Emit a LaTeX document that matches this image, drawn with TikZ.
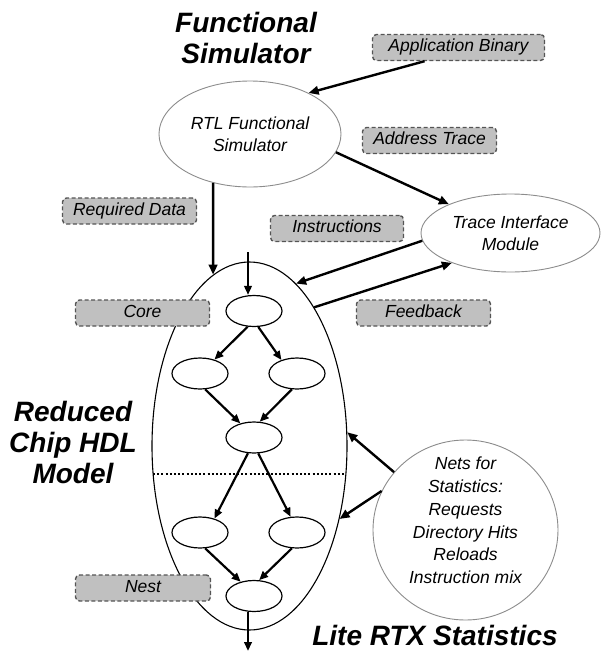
\documentclass[tikz,border=0pt]{standalone}
\usepackage{fontspec}
\setmainfont{Liberation Sans}
\usetikzlibrary{arrows.meta,shapes.geometric}

\newcommand\lblfont{\fontsize{17.5}{22}\selectfont\itshape}
\newcommand\hdrfont{\fontsize{28}{31}\selectfont\bfseries\itshape}

\tikzset{
  tag/.style={draw={rgb,255:red,85;green,85;blue,85}, fill={rgb,255:red,192;green,192;blue,192},
    dash pattern=on 4pt off 2.5pt, line width=1.4pt, rounded corners=4pt,
    minimum height=26pt, inner sep=0pt, font=\lblfont, text height=12.6pt, text depth=3.7pt},
  bubble/.style={ellipse, draw={rgb,255:red,140;green,140;blue,140}, line width=0.9pt,
    fill=white, inner sep=0pt, align=center, font=\lblfont},
  gate/.style={ellipse, draw, line width=1.2pt, minimum width=56pt, minimum height=31pt, inner sep=0pt},
  flow/.style={line width=2.4pt, -{Triangle[length=10pt,width=8.5pt]}},
  link/.style={line width=2.2pt, -{Triangle[length=9pt,width=7.5pt]}},
  title/.style={font=\hdrfont, align=center, inner sep=0pt},
}

\begin{document}
\begin{tikzpicture}[x=1pt,y=-1pt]
\useasboundingbox (0,0) rectangle (601,651);

% headings
\node[title] (hdrfs) at (246,37.5) {Functional\\Simulator};
\node[title] (hdrchip) at (73,442.5) {Reduced\\Chip HDL\\Model};
\node[title, anchor=base] (hdrlite) at (435,645) {Lite RTX Statistics};

% simulator side
\node[bubble, minimum width=182pt, minimum height=106pt] (rtl) at (250,134) {RTL Functional\\Simulator};
\node[bubble, minimum width=179pt, minimum height=78pt] (tim) at (510.5,233) {Trace Interface\\Module};

% reduced chip model
\node[ellipse, draw, line width=1.1pt, minimum width=195pt, minimum height=368pt, inner sep=0pt] (chip) at (249.5,446) {};
\draw[line width=1.6pt, dash pattern=on 2pt off 2.2pt] (153,474) -- (346,474);

\node[gate] (e1)  at (254,311) {};
\node[gate] (r2l) at (200,373.5) {};
\node[gate] (r2r) at (297,373.5) {};
\node[gate] (r3)  at (254,437.5) {};
\node[gate] (r4l) at (200,532.5) {};
\node[gate] (r4r) at (297,532.5) {};
\node[gate] (r5)  at (254,596) {};

\coordinate (inlet) at (248,252);
\coordinate (outlet) at (248,651);
\draw[link] (inlet) -- (inlet |- e1.north);
\draw[link] (e1.248) -- (r2l.44);
\draw[link] (e1.285) -- (r2r.139);
\draw[link] (r2l.288) -- (r3.134);
\draw[link] (r2r.252) -- (r3.70);
\draw[link] (r3.249) -- (r4l.44);
\draw[link] (r3.285) -- (r4r.112);
\draw[link] (r4l.288) -- (r5.133);
\draw[link] (r4r.252) -- (r5.72);
\draw[link] (r5.south -| outlet) -- (outlet);

% statistics nets
\node[bubble, minimum width=185pt, minimum height=180pt] (nets) at (465.5,530)
  {\raisebox{3.6pt}[0pt][0pt]{\renewcommand\arraystretch{1.04}\begin{tabular}{@{}c@{}}Nets for\\Statistics:\\Requests\\Directory Hits\\Reloads\\Instruction mix\end{tabular}}};

% labels
\node[tag, minimum width=172pt] (appbin) at (458.5,47.5) {Application Binary};
\node[tag, minimum width=134pt] (addr) at (429.5,140.5) {Address Trace};
\node[tag, minimum width=134pt] (reqd) at (129.5,211) {Required Data};
\node[tag, minimum width=133pt] (instr) at (337,228.5) {Instructions};
\node[tag, minimum width=134pt] (core) at (142.5,313) {Core};
\node[tag, minimum width=134pt] (fb) at (423.5,313) {Feedback};
\node[tag, minimum width=135pt] (nest) at (143,588) {Nest};

% data flow
\draw[flow] (appbin.202) -- (rtl.35);
\draw[flow] (rtl.348) -- (tim.155);
\draw[flow] (rtl.233) -- (chip.102);
\draw[flow] (tim.185) -- (chip.74);
\draw[flow] (chip.65) -- (tim.207);
\draw[flow] (nets.141) -- (chip.8);
\draw[flow] (nets.155) -- (chip.321);
\end{tikzpicture}
\end{document}
